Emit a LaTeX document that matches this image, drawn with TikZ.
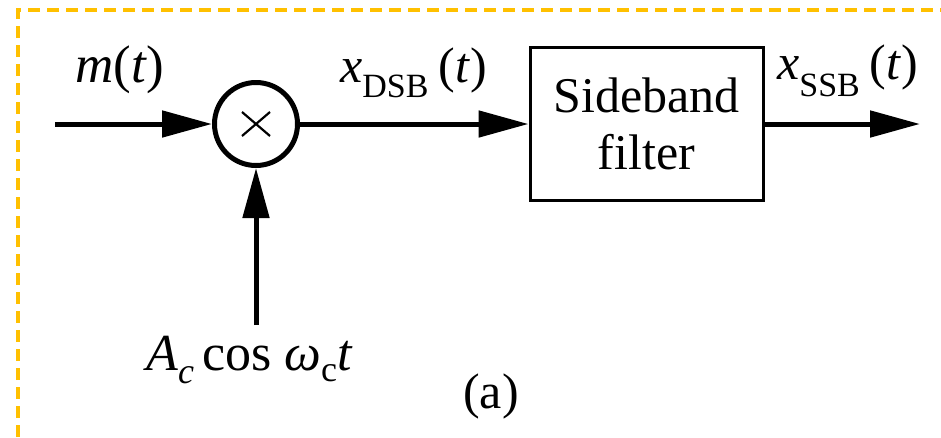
\documentclass[tikz,border=0pt]{standalone}
\usepackage{fontspec}
\setmainfont{Liberation Serif}
\usetikzlibrary{arrows.meta}
\definecolor{frame}{RGB}{255,192,0}
\newcommand\fs[1]{\fontsize{#1}{#1}\selectfont}
\begin{document}
\begin{tikzpicture}[x=1pt,y=-1pt,
  sig/.style={line width=5pt,-{Triangle[length=50pt,width=26pt]}},
  lbl/.style={inner sep=0pt,anchor=base west},
  mixer/.style={circle,draw,line width=5pt,minimum size=83pt,inner sep=0pt},
  filterbox/.style={draw,line width=3pt,minimum width=233pt,minimum height=153pt,inner sep=0pt,align=center,font=\fontsize{50}{57}\selectfont},
]
\useasboundingbox (0,0) rectangle (941,437);
\draw[frame,line width=4pt,dash pattern=on 12pt off 7pt] (18,437) -- (18,10) -- (941,10);

\node[mixer] (mix) at (256,124) {};
\draw[line width=2.2pt] ([shift={(-14,-12)}]mix.center) -- ([shift={(14,12)}]mix.center)
                        ([shift={(-14,12)}]mix.center) -- ([shift={(14,-12)}]mix.center);
\node[filterbox] (box) at (646.5,124) {Sideband\\filter};

\coordinate (in) at (55,124);
\coordinate (carrier) at (256,325);
\coordinate (out) at (920,124);

\draw[sig] (in) -- (mix);
\draw[sig] (carrier) -- (mix);
\draw[sig] (mix) -- (box);
\draw[sig] (box) -- (out);

\node[lbl] (mt) at (75,82) {\fs{53}\textit{m}(\textit{t})};
\node[lbl] (xdsb) at (340,82) {\fs{50}\textit{x}\raisebox{-15pt}{\fs{34}DSB}\hspace{10pt}(\textit{t})};
\node[lbl] (xssb) at (777,79) {\fs{50}\textit{x}\raisebox{-17pt}{\fs{34}SSB}\hspace{10pt}(\textit{t})};
\node[lbl] (carr) at (146,370) {\fs{52}\textit{A}\raisebox{-13pt}{\fs{36}\textit{c}}\hspace{8pt}cos \textit{ω}\raisebox{-11pt}{\fs{36}c}\textit{t}};
\node[inner sep=0pt,anchor=base] (cap) at (491,408) {\fs{50}(a)};
\end{tikzpicture}
\end{document}
